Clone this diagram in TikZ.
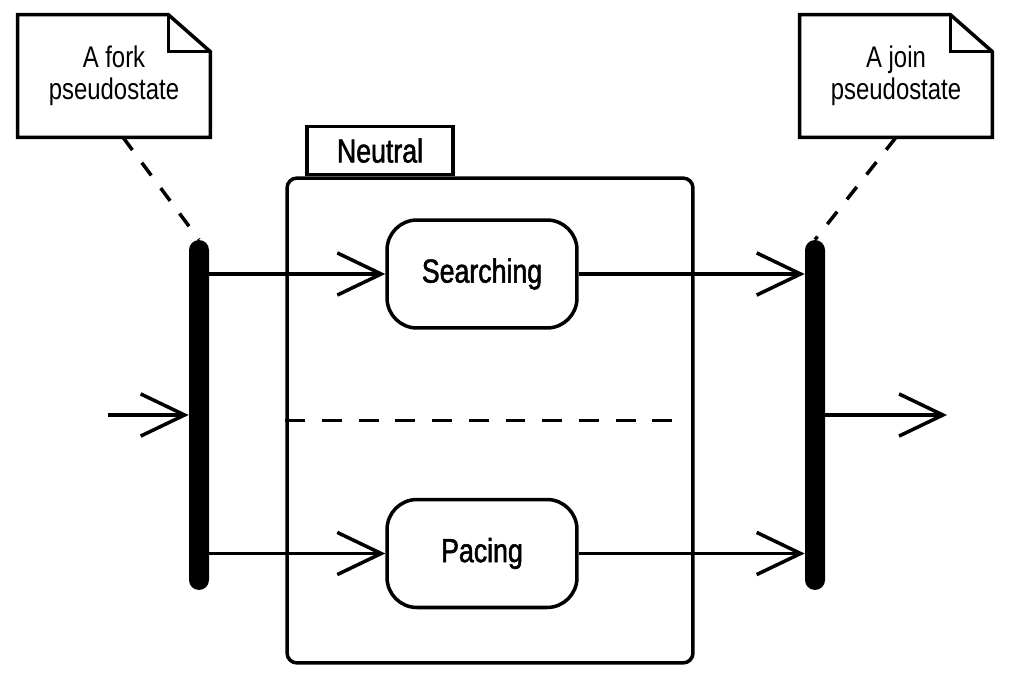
\documentclass[tikz,border=0pt]{standalone}
\usepackage{fontspec}
\setmainfont{Liberation Sans}[FakeStretch=0.8]
\newfontfamily\statefont{Liberation Sans}[FakeStretch=0.8,FakeBold=1.5]
\usetikzlibrary{arrows.meta,positioning}

\begin{document}
\begin{tikzpicture}[x=0.02cm, y=-0.02cm,
	state/.style={draw, line width=2pt, rounded corners=0.6cm, minimum width=3.8cm, minimum height=2.16cm, font=\statefont\fontsize{19}{21}\selectfont},
	bar/.style={fill=black, rounded corners=0.2cm, minimum width=0.4cm, minimum height=7cm, inner sep=0pt},
	notebox/.style={minimum width=3.84cm, minimum height=2.44cm, align=center, font=\fontsize{17}{18.5}\selectfont},
	trans/.style={line width=2pt, -{Straight Barb[length=25pt,width=24pt]}},
	anchorline/.style={line width=2pt, dash pattern=on 9pt off 9pt}]

\useasboundingbox (0,0) rectangle (1013,682);

% composite state
\node[draw, line width=2pt, rounded corners=0.2cm, minimum width=8.12cm, minimum height=9.7cm] (neutral) at (490,420.5) {};
\node[draw, line width=2pt, anchor=south west, minimum width=2.92cm, minimum height=0.96cm, font=\statefont\fontsize{19}{21}\selectfont] (tabN) at ([xshift=0.4cm]neutral.north west) {Neutral};
\draw[line width=2pt, dash pattern=on 11.3pt off 9.6pt] (neutral.west) -- ([xshift=-0.32cm]neutral.east);

\node[state] (searching) at (482,274) {Searching};
\node[state] (pacing) at (482,553.5) {Pacing};

% fork and join bars
\node[bar] (fork) at (199,415) {};
\node[bar] (join) at (815,415) {};

\coordinate (start) at (108,415);
\coordinate (finish) at (947,415);

\draw[trans] (start) -- (fork.west);
\draw[trans] (fork.east |- searching.west) -- (searching.west);
\draw[trans] (fork.east |- pacing.west) -- (pacing.west);
\draw[trans] (searching.east) -- (join.west |- searching.east);
\draw[trans] (pacing.east) -- (join.west |- pacing.east);
\draw[trans] (join.east) -- (finish);

% notes
\node[notebox] (forknote) at (114,76) {A fork\\pseudostate};
\node[notebox] (joinnote) at (896,76) {A join\\pseudostate};
\foreach \n in {forknote,joinnote} {
	\draw[line width=2pt, line join=miter] (\n.south west) -- (\n.south east) -- ([yshift=-0.74cm]\n.north east) -- ([xshift=-0.84cm]\n.north east) -- (\n.north west) -- cycle;
	\draw[line width=2pt] ([xshift=-0.84cm]\n.north east) |- ([yshift=-0.74cm]\n.north east);
}

\draw[anchorline] ([xshift=0.18cm]forknote.south) -- (fork.north);
\draw[anchorline] (joinnote.south) -- (join.north);
\end{tikzpicture}
\end{document}
